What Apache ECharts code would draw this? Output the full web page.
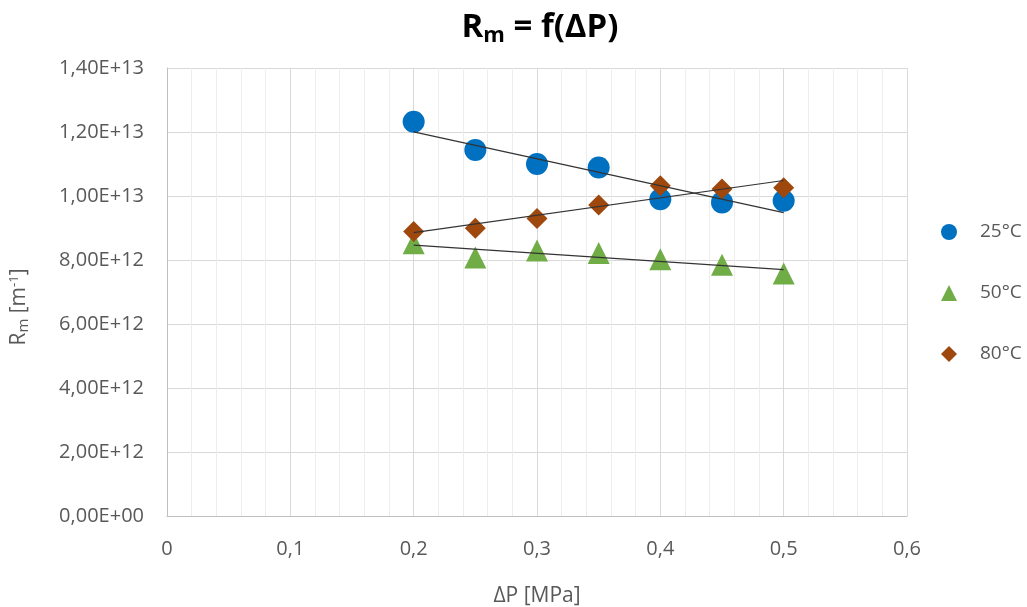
<!DOCTYPE html>
<html><head><meta charset="utf-8">
<script src="https://cdn.jsdelivr.net/npm/echarts@6/dist/echarts.min.js"></script>
<style>html,body{margin:0;padding:0;background:#fff}#c{width:1027px;height:607px}</style>
</head><body><div id="c"></div>
<script>
const pressures = [0.2, 0.25, 0.3, 0.35, 0.4, 0.45, 0.5];
const series25 = [1.232e13, 1.144e13, 1.100e13, 1.089e13, 0.990e13, 0.980e13, 0.985e13];
const series50 = [0.852e13, 0.808e13, 0.830e13, 0.822e13, 0.802e13, 0.785e13, 0.758e13];
const series80 = [0.889e13, 0.899e13, 0.930e13, 0.972e13, 1.032e13, 1.022e13, 1.026e13];
const seriesNames = ['25°C', '50°C', '80°C'];
const colors = ['#0070C0', '#70AD47', '#9E480E'];

function fit(xs, ys) {
  const n = xs.length;
  const mx = xs.reduce((a, b) => a + b, 0) / n;
  const my = ys.reduce((a, b) => a + b, 0) / n;
  let sxy = 0, sxx = 0;
  for (let i = 0; i < n; i++) { sxy += (xs[i] - mx) * (ys[i] - my); sxx += (xs[i] - mx) ** 2; }
  const b = sxy / sxx, a = my - b * mx;
  const x0 = xs[0], x1 = xs[n - 1];
  return [[x0, a + b * x0], [x1, a + b * x1]];
}
function sci(v) {
  if (v === 0) return '0,00E+00';
  const e = Math.floor(Math.log10(Math.abs(v)) + 1e-9);
  const m = v / Math.pow(10, e);
  return m.toFixed(2).replace('.', ',') + 'E+' + (e < 10 ? '0' + e : e);
}
const pair = d => pressures.map((x, i) => [x, d[i]]);
const font = '"Open Sans", sans-serif';
const grey = '#595959';
const chart = echarts.init(document.getElementById('c'));
const symbols = ['circle', 'triangle', 'diamond'];
const sizes = [22, 22, 21];
const data = [series25, series50, series80];
const seriesList = [];
data.forEach((d) => {
  seriesList.push({
    type: 'line', data: fit(pressures, d), showSymbol: false, symbol: 'none',
    lineStyle: { color: '#333', width: 1.2 }, silent: true, z: 3
  });
});
data.forEach((d, i) => {
  seriesList.push({
    name: seriesNames[i], type: 'scatter', data: pair(d), symbol: symbols[i],
    symbolSize: sizes[i], itemStyle: { color: colors[i], opacity: 1 }, z: 2
  });
});
chart.setOption({
  animation: false,
  textStyle: { fontFamily: font },
  title: {
    text: '{r|R}{s|m}{r| = f(ΔP)}', left: 535, textAlign: 'center', top: 1,
    textStyle: {
      rich: {
        r: { fontSize: 33, fontWeight: 'bold', color: '#000', fontFamily: font, lineHeight: 44 },
        s: { fontSize: 22, fontWeight: 'bold', color: '#000', fontFamily: font, lineHeight: 44, padding: [16, 0, 0, 0] }
      }
    }
  },
  graphic: [{
    type: 'text', x: 19, y: 307, rotation: Math.PI / 2,
    style: {
      text: '{a|R}{s|m}{a| [m}{p|-1}{a|]}', align: 'center', verticalAlign: 'middle',
      rich: {
        a: { fontSize: 21, fill: grey, fontFamily: font, lineHeight: 26 },
        s: { fontSize: 15, fill: grey, fontFamily: font, padding: [10, 0, 0, 0], lineHeight: 26 },
        p: { fontSize: 13, fill: grey, fontFamily: font, padding: [0, 0, 10, 0], lineHeight: 26 }
      }
    }
  }],
  legend: {
    orient: 'vertical', left: 936, top: 217, itemGap: 41, itemWidth: 16, itemHeight: 16,
    data: seriesNames.map((n, i) => ({ name: n, icon: symbols[i] })),
    textStyle: { fontSize: 19, color: grey, fontFamily: font, padding: [0, 0, 0, 18], lineHeight: 20 }
  },
  grid: { left: 167, right: 120, top: 68, bottom: 91, containLabel: false, outerBoundsMode: 'none' },
  xAxis: {
    type: 'value', min: 0, max: 0.6, interval: 0.1,
    name: 'ΔP [MPa]', nameLocation: 'middle', nameGap: 70,
    nameTextStyle: { fontSize: 21, color: grey, fontFamily: font },
    axisLine: { show: true, onZero: false, lineStyle: { color: '#BFBFBF', width: 1 } },
    axisTick: { show: false },
    axisLabel: { fontSize: 20, color: grey, margin: 23, fontFamily: font,
      formatter: v => (Math.round(v * 10) / 10).toString().replace('.', ',') },
    splitLine: { show: true, lineStyle: { color: '#D9D9D9', width: 1 } },
    minorTick: { show: false, splitNumber: 5 },
    minorSplitLine: { show: true, lineStyle: { color: '#EDEDED', width: 1 } }
  },
  yAxis: {
    type: 'value', min: 0, max: 1.4e13, interval: 2e12,
    axisLine: { show: true, lineStyle: { color: '#BFBFBF', width: 1 } },
    axisTick: { show: false },
    axisLabel: { fontSize: 20, color: grey, margin: 23, fontFamily: font, formatter: sci },
    splitLine: { show: true, lineStyle: { color: '#D9D9D9', width: 1 } }
  },
  series: seriesList
});
</script></body></html>
